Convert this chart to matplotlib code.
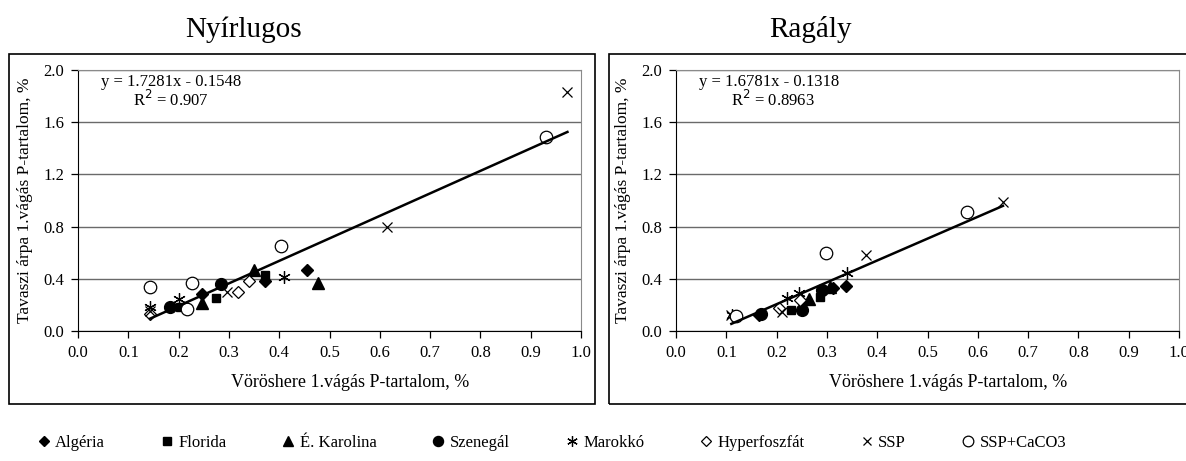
import matplotlib
matplotlib.use("Agg")
import matplotlib.pyplot as plt
from matplotlib.patches import Rectangle
import numpy as np

plt.rcParams['font.family'] = ['Liberation Serif', 'DejaVu Serif']

series_names = ["Algéria", "Florida", "É. Karolina", "Szenegál", "Marokkó",
                "Hyperfoszfát", "SSP", "SSP+CaCO3"]

# Nyírlugos: x = vöröshere P %, y = tavaszi árpa P %
ny_x = {
    "Algéria": [0.246, 0.372, 0.455],
    "Florida": [0.203, 0.274, 0.372],
    "É. Karolina": [0.246, 0.350, 0.478],
    "Szenegál": [0.183, 0.285],
    "Marokkó": [0.144, 0.201, 0.410],
    "Hyperfoszfát": [0.144, 0.216, 0.319, 0.340],
    "SSP": [0.144, 0.297, 0.615, 0.973],
    "SSP+CaCO3": [0.143, 0.216, 0.226, 0.403, 0.930],
}
ny_y = {
    "Algéria": [0.280, 0.385, 0.470],
    "Florida": [0.180, 0.255, 0.430],
    "É. Karolina": [0.215, 0.470, 0.370],
    "Szenegál": [0.180, 0.360],
    "Marokkó": [0.180, 0.245, 0.415],
    "Hyperfoszfát": [0.130, 0.175, 0.300, 0.385],
    "SSP": [0.150, 0.295, 0.800, 1.830],
    "SSP+CaCO3": [0.335, 0.165, 0.370, 0.650, 1.490],
}

# Ragály
rg_x = {
    "Algéria": [0.165, 0.312, 0.338],
    "Florida": [0.228, 0.286],
    "É. Karolina": [0.265, 0.307],
    "Szenegál": [0.169, 0.251, 0.290],
    "Marokkó": [0.112, 0.220, 0.245, 0.340],
    "Hyperfoszfát": [0.115, 0.205, 0.247],
    "SSP": [0.110, 0.210, 0.378, 0.650],
    "SSP+CaCO3": [0.120, 0.298, 0.578],
}
rg_y = {
    "Algéria": [0.120, 0.330, 0.345],
    "Florida": [0.160, 0.260],
    "É. Karolina": [0.245, 0.335],
    "Szenegál": [0.130, 0.160, 0.310],
    "Marokkó": [0.120, 0.250, 0.290, 0.440],
    "Hyperfoszfát": [0.110, 0.175, 0.235],
    "SSP": [0.120, 0.146, 0.580, 0.990],
    "SSP+CaCO3": [0.110, 0.600, 0.910],
}

ny_fit = (1.7281, -0.1548, "y = 1.7281x - 0.1548", "R$^2$ = 0.907")
rg_fit = (1.6781, -0.1318, "y = 1.6781x - 0.1318", "R$^2$ = 0.8963")

styles = {
    "Algéria": dict(marker='D', ms=6, mfc='black', mec='black'),
    "Florida": dict(marker='s', ms=6, mfc='black', mec='black'),
    "É. Karolina": dict(marker='^', ms=8, mfc='black', mec='black'),
    "Szenegál": dict(marker='o', ms=8.5, mfc='black', mec='black'),
    "Marokkó": dict(marker=(6, 2, 0), ms=9, mec='black', mew=0.9),
    "Hyperfoszfát": dict(marker='D', ms=6, mfc='white', mec='black', mew=0.9),
    "SSP": dict(marker='x', ms=7, mec='black', mew=0.9),
    "SSP+CaCO3": dict(marker='o', ms=9, mfc='white', mec='black', mew=0.9),
}

fs = 12

fig = plt.figure(figsize=(11.86, 4.61), dpi=100)

# outer chart boxes
for bx in [(0.0072, 0.1236, 0.4945, 0.7593), (0.5135, 0.1236, 0.52, 0.7593)]:
    fig.add_artist(Rectangle(bx[:2], bx[2], bx[3], transform=fig.transFigure,
                             fill=False, edgecolor='black', linewidth=1.2))

def draw_panel(ax, xs, ys, fit, title, title_x):
    for name in series_names:
        ax.plot(xs[name], ys[name], linestyle='none', color='black',
                zorder=3, **styles[name])
    allx = np.concatenate([xs[n] for n in series_names])
    lx = np.array([allx.min(), allx.max()])
    ax.plot(lx, fit[0] * lx + fit[1], color='black', linewidth=1.8, zorder=4)
    ax.text(0.045, 1.91, fit[2], fontsize=fs, va='center')
    ax.text(0.11, 1.77, fit[3], fontsize=fs, va='center')

    ax.set_xlim(0, 1.0)
    ax.set_ylim(0, 2.0)
    ax.set_xticks(np.arange(0, 1.01, 0.1))
    ax.set_xticklabels([f"{v:.1f}" for v in np.arange(0, 1.01, 0.1)])
    ax.set_yticks(np.arange(0, 2.01, 0.4))
    ax.set_yticklabels([f"{v:.1f}" for v in np.arange(0, 2.01, 0.4)])
    ax.tick_params(direction='out', length=5, width=0.9, labelsize=fs, color='black', pad=5)
    ax.yaxis.grid(True, color='#6a6a6a', linewidth=1.0)
    ax.set_axisbelow(True)
    for s in ['top', 'right']:
        ax.spines[s].set_color('#8a8a8a')
    for s in ['left', 'bottom']:
        ax.spines[s].set_color('black')
    ax.set_xlabel("Vöröshere 1.vágás P-tartalom, %", fontsize=fs + 1, labelpad=9)
    ax.xaxis.set_label_coords(0.54, -0.165)
    ax.set_ylabel("Tavaszi árpa 1.vágás P-tartalom, %", fontsize=fs + 0.5, labelpad=7)
    fig.text(title_x, 0.935, title, fontsize=21, ha='center', va='center')

ax1 = fig.add_axes([0.0658, 0.2826, 0.4241, 0.5649])
ax2 = fig.add_axes([0.5700, 0.2826, 0.4241, 0.5649])
draw_panel(ax1, ny_x, ny_y, ny_fit, "Nyírlugos", 0.205)
draw_panel(ax2, rg_x, rg_y, rg_fit, "Ragály", 0.683)

handles = []
for name in series_names:
    h, = ax1.plot([], [], linestyle='none', color='black', label=name, **styles[name])
    handles.append(h)
leg = fig.legend(handles=handles, loc='center', bbox_to_anchor=(0.465, 0.04), ncol=8,
                 frameon=False, fontsize=fs, handlelength=0.8, handletextpad=0.3,
                 columnspacing=3.3, markerscale=0.85)

fig.savefig("out.png", dpi=100)
